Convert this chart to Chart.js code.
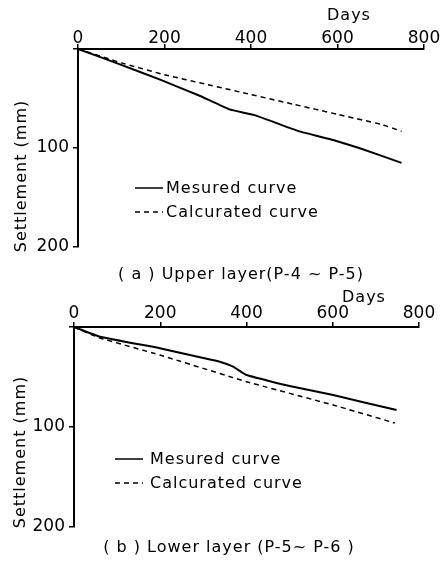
<!DOCTYPE html>
<html>
<head>
<meta charset="utf-8">
<script src="https://cdn.jsdelivr.net/npm/chart.js@4"></script>
<style>
  body { margin: 0; background: #fff; }
  canvas { position: absolute; left: 0; }
  #upperChart { top: 0; }
  #lowerChart { top: 285px; }
</style>
</head>
<body>
<canvas id="upperChart" width="444" height="285"></canvas>
<canvas id="lowerChart" width="444" height="276"></canvas>
<script>
// values (days, settlement in mm)
const xTicks = [0, 200, 400, 600, 800];
const yTicks = [0, 100, 200];

const upperMeasuredDays = [0, 100, 190, 280, 350, 410, 510, 590, 650, 748];
const upperMeasured = [0, 16, 31, 47, 61, 67, 83, 92, 100, 115];
const upperCalcDays = [0, 100, 200, 300, 400, 500, 600, 700, 748];
const upperCalc = [0, 14, 26, 36, 46, 56, 66, 76, 83];

const lowerMeasuredDays = [0, 60, 199, 292, 338, 369, 400, 500, 601, 678, 748];
const lowerMeasured = [0, 9.7, 21.3, 30.3, 34.7, 39.7, 48, 59, 68, 76, 83];
const lowerCalcDays = [0, 60, 199, 400, 601, 744];
const lowerCalc = [0, 11, 28, 54.7, 78, 96];

const seriesLabels = ['Mesured curve', 'Calcurated curve'];

Chart.defaults.font.family = 'DejaVu Sans';
Chart.defaults.font.size = 17;
Chart.defaults.color = '#000';

const toPoints = (xs, ys) => xs.map((x, i) => ({ x: x, y: ys[i] }));

// legend, "Days", y title and caption drawn onto the canvas
const extraText = {
    id: 'extraText',
    afterDraw(chart, args, opts) {
        const ctx = chart.ctx;
        ctx.save();
        ctx.fillStyle = '#000';
        ctx.strokeStyle = '#000';
        ctx.font = '16px "DejaVu Sans"';
        ctx.letterSpacing = '1px';
        ctx.textBaseline = 'middle';

        ctx.textAlign = 'left';
        ctx.fillText('Days', opts.days.x, opts.days.y);

        // legend
        chart.data.datasets.forEach((ds, i) => {
            const y = opts.legend.y + i * opts.legend.gap;
            ctx.beginPath();
            ctx.lineWidth = 1.5;
            ctx.setLineDash(ds.borderDash || []);
            ctx.moveTo(opts.legend.x, y);
            ctx.lineTo(opts.legend.x + 28, y);
            ctx.stroke();
            ctx.setLineDash([]);
            ctx.fillText(ds.label, opts.legend.x + opts.legend.textGap, y + 1);
        });

        ctx.textAlign = 'center';
        ctx.fillText(opts.caption.text, opts.caption.x, opts.caption.y);

        ctx.translate(opts.ytitle.x, opts.ytitle.y);
        ctx.rotate(-Math.PI / 2);
        ctx.fillText('Settlement (mm)', 0, 0);
        ctx.restore();
    }
};

function makeChart(id, measured, calc, axisTop, axisLeft, padRight, padBottom, xPad, extra) {
    const ctx = document.getElementById(id).getContext('2d');
    return new Chart(ctx, {
        type: 'line',
        data: {
            datasets: [{
                label: seriesLabels[0],
                data: measured,
                borderColor: '#000',
                borderWidth: 2,
                pointRadius: 0,
                tension: 0.1
            }, {
                label: seriesLabels[1],
                data: calc,
                borderColor: '#000',
                borderWidth: 1.5,
                borderDash: [5, 4],
                pointRadius: 0,
                tension: 0.1
            }]
        },
        options: {
            responsive: false,
            animation: false,
            layout: { padding: { left: 0, top: 0, right: padRight, bottom: padBottom } },
            plugins: {
                legend: { display: false },
                tooltip: { enabled: false },
                extraText: extra
            },
            scales: {
                x: {
                    type: 'linear',
                    position: 'top',
                    min: 0,
                    max: 800,
                    afterBuildTicks: s => { s.ticks = xTicks.map(v => ({ value: v })); },
                    afterFit: s => { s.height = axisTop; },
                    ticks: { padding: xPad, maxRotation: 0 },
                    grid: { drawOnChartArea: false, tickLength: 5, color: '#000', lineWidth: 1.5 },
                    border: { color: '#000', width: 2 }
                },
                y: {
                    reverse: true,
                    min: 0,
                    max: 200,
                    afterBuildTicks: s => { s.ticks = yTicks.map(v => ({ value: v })); },
                    afterFit: s => { s.width = axisLeft; },
                    ticks: { padding: 4, callback: v => (v === 0 ? '' : v) },
                    grid: { drawOnChartArea: false, tickLength: 5, color: '#000', lineWidth: 1.5 },
                    border: { color: '#000', width: 2 }
                }
            }
        },
        plugins: [extraText]
    });
}

makeChart('upperChart',
    toPoints(upperMeasuredDays, upperMeasured),
    toPoints(upperCalcDays, upperCalc),
    49, 78, 20, 38, -5,
    {
        days: { x: 327, y: 16 },
        legend: { x: 135, y: 188, gap: 24, textGap: 31 },
        caption: { text: '( a ) Upper layer(P-4 ~ P-5)', x: 241, y: 275 },
        ytitle: { x: 22, y: 176 }
    });

makeChart('lowerChart',
    toPoints(lowerMeasuredDays, lowerMeasured),
    toPoints(lowerCalcDays, lowerCalc),
    42, 74, 25, 34, -2,
    {
        days: { x: 342, y: 13 },
        legend: { x: 115, y: 174, gap: 24, textGap: 35 },
        caption: { text: '( b ) Lower layer (P-5~ P-6 )', x: 229, y: 263 },
        ytitle: { x: 21, y: 167 }
    });
</script>
</body>
</html>
